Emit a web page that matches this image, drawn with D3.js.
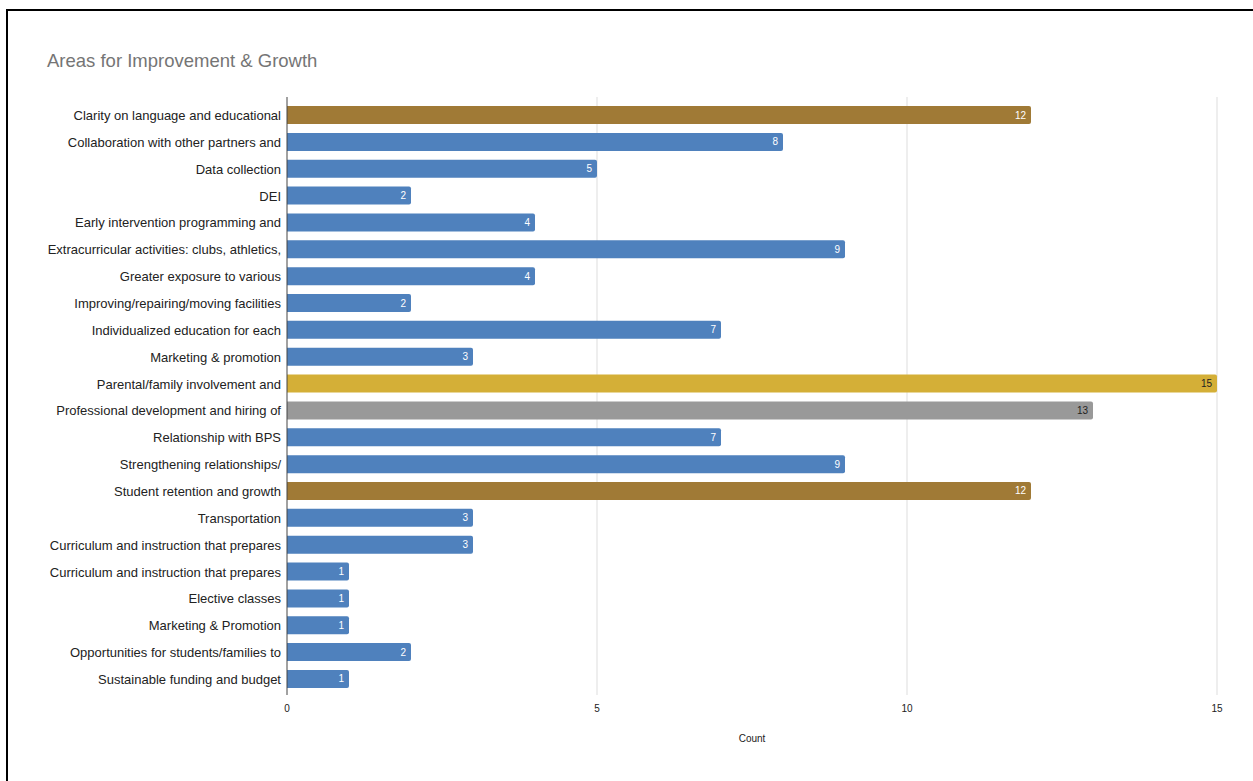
<!DOCTYPE html>
<html>
<head>
<meta charset="utf-8">
<script src="https://cdn.jsdelivr.net/npm/d3@7"></script>
<style>
  body { margin: 0; background: #fff; }
  text { font-family: "Liberation Sans", Arial, sans-serif; }
</style>
</head>
<body>
<div id="canvas"></div>
<script>
"use strict";

/* Data */
let categories = [
  "Clarity on language and educational",
  "Collaboration with other partners and",
  "Data collection",
  "DEI",
  "Early intervention programming and",
  "Extracurricular activities: clubs, athletics,",
  "Greater exposure to various",
  "Improving/repairing/moving facilities",
  "Individualized education for each",
  "Marketing & promotion",
  "Parental/family involvement and",
  "Professional development and hiring of",
  "Relationship with BPS",
  "Strengthening relationships/",
  "Student retention and growth",
  "Transportation",
  "Curriculum and instruction that prepares",
  "Curriculum and instruction that prepares",
  "Elective classes",
  "Marketing & Promotion",
  "Opportunities for students/families to",
  "Sustainable funding and budget"
];
let counts = [12, 8, 5, 2, 4, 9, 4, 2, 7, 3, 15, 13, 7, 9, 12, 3, 3, 1, 1, 1, 2, 1];
let barGroups = ["brown", "blue", "blue", "blue", "blue", "blue", "blue", "blue", "blue", "blue",
  "gold", "gray", "blue", "blue", "brown", "blue", "blue", "blue", "blue", "blue", "blue", "blue"];
let xTicks = [0, 5, 10, 15];

/* Drawing config */
let svgWidth = 1253;
let svgHeight = 781;
let plotLeft = 287;
let plotRight = 1217;
let plotTop = 97;
let plotBottom = 695;

let fillColor = { blue: "#4f81bd", brown: "#a07a36", gold: "#d4af37", gray: "#999999" };
let labelColor = { blue: "#ffffff", brown: "#ffffff", gold: "#222222", gray: "#222222" };

let svg = d3.select("#canvas")
  .append("svg")
  .attr("width", svgWidth)
  .attr("height", svgHeight);

// outer frame (only top and left edges show in the window)
svg.append("rect")
  .attr("x", 7)
  .attr("y", 10)
  .attr("width", svgWidth + 20)
  .attr("height", svgHeight + 20)
  .attr("fill", "none")
  .attr("stroke", "#000")
  .attr("stroke-width", 2);

svg.append("text")
  .attr("x", 47)
  .attr("y", 67)
  .attr("font-size", "18.5px")
  .attr("fill", "#757575")
  .text("Areas for Improvement & Growth");

let xScale = d3.scaleLinear()
  .domain([0, 15])
  .range([plotLeft, plotRight]);

let yScale = d3.scaleBand()
  .domain(d3.range(categories.length))
  .range([101.6, 692.4])
  .paddingInner(0.33)
  .paddingOuter(0.165);

/* grid lines */
svg.selectAll(".grid")
  .data(xTicks.filter(function (d) { return d > 0; }))
  .enter()
  .append("line")
  .attr("x1", function (d) { return xScale(d); })
  .attr("x2", function (d) { return xScale(d); })
  .attr("y1", plotTop)
  .attr("y2", plotBottom)
  .attr("stroke", "#dddddd")
  .attr("stroke-width", 1);

/* x tick labels */
svg.selectAll(".xtick")
  .data(xTicks)
  .enter()
  .append("text")
  .attr("x", function (d) { return xScale(d); })
  .attr("y", 712)
  .attr("text-anchor", "middle")
  .attr("font-size", "10px")
  .attr("fill", "#222")
  .text(function (d) { return String(d); });

svg.append("text")
  .attr("x", (plotLeft + plotRight) / 2)
  .attr("y", 742)
  .attr("text-anchor", "middle")
  .attr("font-size", "10px")
  .attr("fill", "#222")
  .text("Count");

/* bars */
svg.selectAll(".bar")
  .data(counts)
  .enter()
  .append("path")
  .attr("fill", function (d, i) { return fillColor[barGroups[i]]; })
  .attr("d", function (d, i) {
    let x0 = xScale(0);
    let x1 = xScale(d);
    let y0 = yScale(i);
    let h = yScale.bandwidth();
    let r = 2;
    return "M" + x0 + "," + y0 +
      "H" + (x1 - r) +
      "Q" + x1 + "," + y0 + " " + x1 + "," + (y0 + r) +
      "V" + (y0 + h - r) +
      "Q" + x1 + "," + (y0 + h) + " " + (x1 - r) + "," + (y0 + h) +
      "H" + x0 + "Z";
  });

/* value labels */
svg.selectAll(".val")
  .data(counts)
  .enter()
  .append("text")
  .attr("x", function (d) { return xScale(d) - 5; })
  .attr("y", function (d, i) { return yScale(i) + yScale.bandwidth() / 2; })
  .attr("dy", "0.35em")
  .attr("text-anchor", "end")
  .attr("font-size", "10px")
  .attr("fill", function (d, i) { return labelColor[barGroups[i]]; })
  .text(function (d) { return String(d); });

/* category labels */
svg.selectAll(".cat")
  .data(categories)
  .enter()
  .append("text")
  .attr("x", plotLeft - 6)
  .attr("y", function (d, i) { return yScale(i) + yScale.bandwidth() / 2 + 0.5; })
  .attr("dy", "0.35em")
  .attr("text-anchor", "end")
  .attr("font-size", "13px")
  .attr("fill", "#222")
  .text(function (d) { return d; });

/* zero axis line */
svg.append("line")
  .attr("x1", xScale(0))
  .attr("x2", xScale(0))
  .attr("y1", plotTop)
  .attr("y2", plotBottom)
  .attr("stroke", "#444")
  .attr("stroke-width", 1);
</script>
</body>
</html>
